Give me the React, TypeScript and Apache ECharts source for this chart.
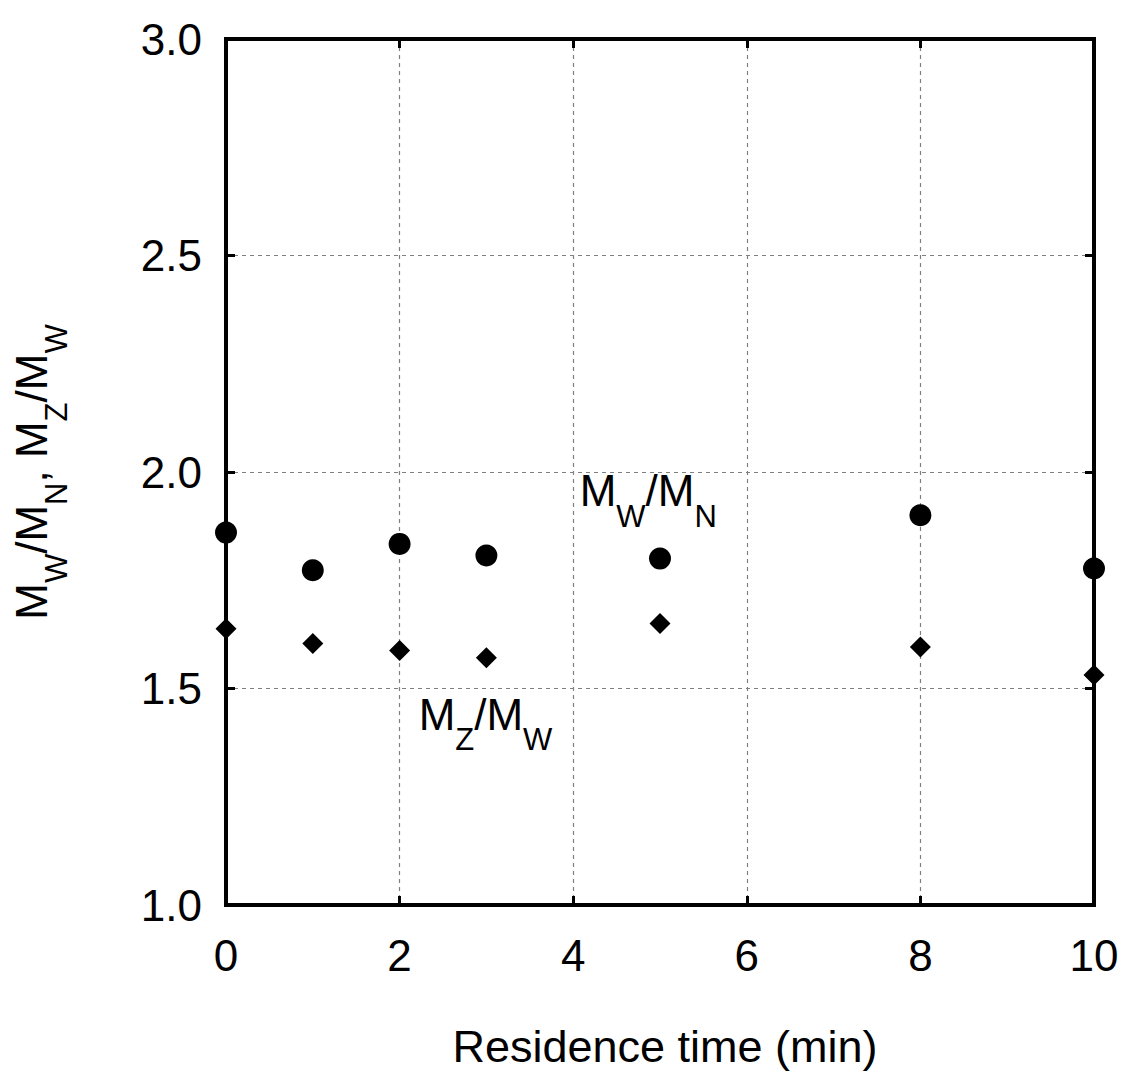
import React, { useEffect, useRef } from "react";
import * as echarts from "echarts";

// Residence time (min)
const times = [0, 1, 2, 3, 5, 8, 10];
// Mw/Mn (circles)
const mwMn = [1.86, 1.773, 1.834, 1.807, 1.8, 1.9, 1.777];
// Mz/Mw (diamonds)
const mzMw = [1.638, 1.604, 1.588, 1.571, 1.65, 1.596, 1.531];

const xTicks = { min: 0, max: 10, interval: 2 };
const yTicks = { min: 1.0, max: 3.0, interval: 0.5 };

// annotation anchors (data units)
const annotations = [
  { x: 4.08, y: 2.006, text: "{m|M}{s|W}{m|/M}{s|N}" },
  { x: 2.225, y: 1.49, text: "{m|M}{s|Z}{m|/M}{s|W}" },
];

const FONT = "'Liberation Sans', Arial, sans-serif";

const richStyles = {
  m: { fontSize: 44, lineHeight: 44, verticalAlign: "top", fontFamily: FONT, color: "#000" },
  s: { fontSize: 31, lineHeight: 31, padding: [32, 0, 0, 0], verticalAlign: "top", fontFamily: FONT, color: "#000" },
};

export default function App() {
  const ref = useRef<HTMLDivElement>(null);

  useEffect(() => {
    document.body.style.margin = "0";
    if (!ref.current) return;
    const chart = echarts.init(ref.current, null, { renderer: "svg" });

    const axisLineStyle = { show: true, onZero: false, lineStyle: { color: "#000", width: 4, cap: "square" } };
    const tickStyle = { show: true, inside: true, length: 9, lineStyle: { color: "#000", width: 3 } };
    const gridLine = { show: true, lineStyle: { color: "#808080", width: 1.2, type: [4, 4] } };

    chart.setOption({
      animation: false,
      backgroundColor: "#fff",
      textStyle: { fontFamily: FONT },
      grid: {
        left: 226,
        right: 29,
        top: 39,
        bottom: 170,
        show: false,
      },
      xAxis: [
        {
          type: "value",
          position: "bottom",
          ...xTicks,
          axisLine: axisLineStyle,
          axisTick: tickStyle,
          splitLine: gridLine,
          axisLabel: { fontSize: 44, color: "#000", margin: 28, fontFamily: FONT, lineHeight: 44 },
          name: "Residence time (min)",
          nameLocation: "middle",
          nameGap: 119,
          nameTextStyle: { fontSize: 45, lineHeight: 45, color: "#000", fontFamily: FONT, padding: [0, 0, 0, 10] },
        },
        {
          type: "value",
          position: "top",
          ...xTicks,
          axisLine: axisLineStyle,
          axisTick: tickStyle,
          splitLine: { show: false },
          axisLabel: { show: false },
        },
      ],
      yAxis: [
        {
          type: "value",
          position: "left",
          ...yTicks,
          axisLine: axisLineStyle,
          axisTick: tickStyle,
          splitLine: gridLine,
          axisLabel: {
            fontSize: 44,
            color: "#000",
            margin: 24,
            fontFamily: FONT,
            formatter: (v: number) => v.toFixed(1),
          },
          name: "{m|M}{s|W}{m|/M}{s|N}{m|, M}{s|Z}{m|/M}{s|W}",
          nameLocation: "middle",
          nameRotate: 90,
          nameGap: 173,
          nameTextStyle: { color: "#000", rich: richStyles },
        },
        {
          type: "value",
          position: "right",
          ...yTicks,
          axisLine: axisLineStyle,
          axisTick: tickStyle,
          splitLine: { show: false },
          axisLabel: { show: false },
        },
      ],
      series: [
        {
          type: "scatter",
          name: "Mw/Mn",
          symbol: "circle",
          symbolSize: 22,
          clip: false,
          itemStyle: { color: "#000", opacity: 1 },
          data: times.map((t, i) => [t, mwMn[i]]),
          z: 5,
        },
        {
          type: "scatter",
          name: "Mz/Mw",
          symbol: "diamond",
          symbolSize: 21,
          clip: false,
          itemStyle: { color: "#000", opacity: 1 },
          data: times.map((t, i) => [t, mzMw[i]]),
          z: 5,
        },
        {
          type: "scatter",
          name: "labels",
          symbol: "circle",
          symbolSize: 1,
          silent: true,
          clip: false,
          itemStyle: { color: "rgba(0,0,0,0)", opacity: 1 },
          data: annotations.map((a) => ({
            value: [a.x, a.y],
            label: {
              show: true,
              position: [0, 0],
              align: "left",
              verticalAlign: "top",
              color: "#000",
              opacity: 1,
              formatter: a.text,
              rich: richStyles,
            },
          })),
        },
      ],
    });

    return () => chart.dispose();
  }, []);

  return <div ref={ref} style={{ width: 1123, height: 1075 }} />;
}
